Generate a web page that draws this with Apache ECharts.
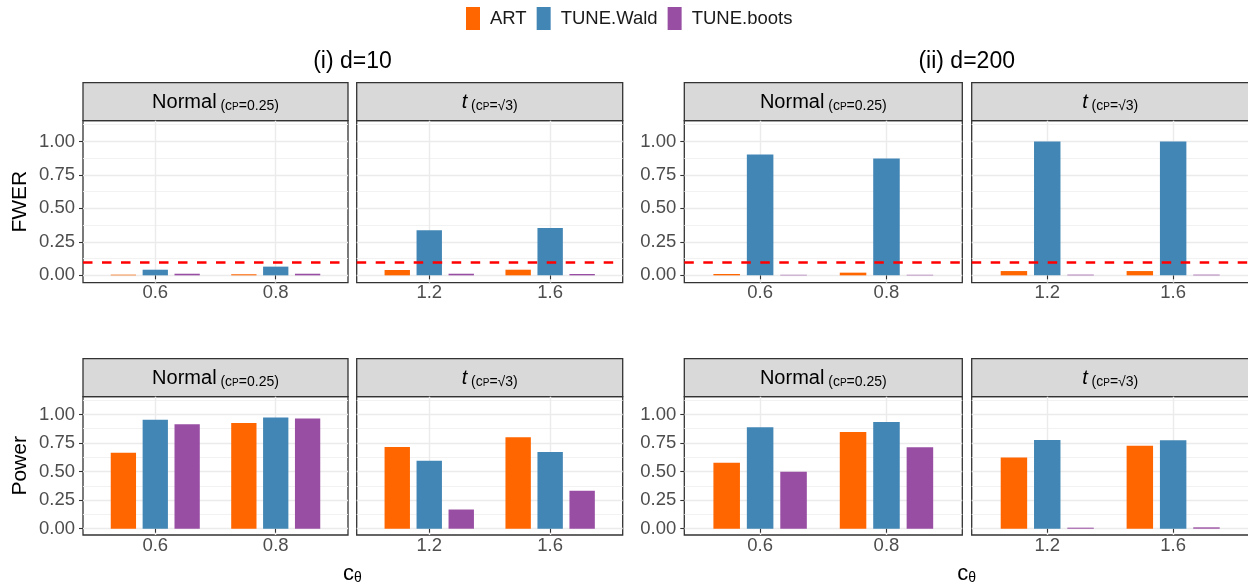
<!DOCTYPE html>
<html>
<head>
<meta charset="utf-8">
<script src="https://cdn.jsdelivr.net/npm/echarts@6.0.0/dist/echarts.min.js"></script>
<style>
  html, body { margin: 0; padding: 0; background: #fff; }
  #chart { width: 1248px; height: 584px; }
</style>
</head>
<body>
<div id="chart"></div>
<script>
// 方法 / 类别
const methods = ['ART', 'TUNE.Wald', 'TUNE.boots'];
const methodColors = ['#ff6600', '#4286b5', '#984ea3'];
const normalCats = ['0.6', '0.8'];
const tCats = ['1.2', '1.6'];
const yTicks = [0, 0.25, 0.5, 0.75, 1];
const yMinorTicks = [0.125, 0.375, 0.625, 0.875, 1.125];
const nominalLevel = 0.1;

// rows: ART, TUNE.Wald, TUNE.boots ; cols: the two c_theta values
const fwerD10Normal = [[0.005, 0.008], [0.042, 0.065], [0.012, 0.012]];
const fwerD10T = [[0.04, 0.042], [0.336, 0.353], [0.012, 0.01]];
const fwerD200Normal = [[0.01, 0.02], [0.903, 0.873], [0.004, 0.004]];
const fwerD200T = [[0.032, 0.032], [1.0, 1.0], [0.005, 0.005]];
const powerD10Normal = [[0.664, 0.925], [0.954, 0.974], [0.913, 0.965]];
const powerD10T = [[0.716, 0.8], [0.594, 0.672], [0.168, 0.333]];
const powerD200Normal = [[0.577, 0.846], [0.887, 0.933], [0.499, 0.713]];
const powerD200T = [[0.623, 0.725], [0.777, 0.774], [0.009, 0.012]];

const yMin = -0.055;
const yMax = 1.155;
const stripH = 38;
const font = "'Liberation Sans', Arial, Helvetica, sans-serif";

// 面板布局 (px): left, top, width, height
const panels = [
  { box: [83, 120.7, 265, 162], cats: normalCats, rows: fwerD10Normal, first: true, ref: true, strip: 'n' },
  { box: [356.7, 120.7, 266, 162], cats: tCats, rows: fwerD10T, first: false, ref: true, strip: 't' },
  { box: [684.3, 120.7, 278, 162], cats: normalCats, rows: fwerD200Normal, first: true, ref: true, strip: 'n' },
  { box: [971.7, 120.7, 277, 162], cats: tCats, rows: fwerD200T, first: false, ref: true, strip: 't' },
  { box: [83, 396.7, 265, 138.3], cats: normalCats, rows: powerD10Normal, first: true, ref: false, strip: 'n' },
  { box: [356.7, 396.7, 266, 138.3], cats: tCats, rows: powerD10T, first: false, ref: false, strip: 't' },
  { box: [684.3, 396.7, 278, 138.3], cats: normalCats, rows: powerD200Normal, first: true, ref: false, strip: 'n' },
  { box: [971.7, 396.7, 277, 138.3], cats: tCats, rows: powerD200T, first: false, ref: false, strip: 't' }
];

const stripRich = {
  a: { fontSize: 20, color: '#1a1a1a', lineHeight: 24, verticalAlign: 'bottom', fontFamily: font },
  it: { fontSize: 20, fontStyle: 'italic', color: '#1a1a1a', lineHeight: 24, verticalAlign: 'bottom', fontFamily: font },
  b: { fontSize: 14, color: '#1a1a1a', lineHeight: 20, verticalAlign: 'bottom', fontFamily: font },
  s: { fontSize: 10, color: '#1a1a1a', lineHeight: 13, verticalAlign: 'bottom', fontFamily: font }
};

const grids = [];
const xAxes = [];
const yAxes = [];
const series = [];
const graphics = [];

panels.forEach((p, i) => {
  const [left, top, width, height] = p.box;
  grids.push({
    left: left, top: top, width: width, height: height,
    show: true, backgroundColor: '#fff', borderColor: '#333333', borderWidth: 1.3,
    containLabel: false, outerBoundsMode: 'none'
  });
  xAxes.push({
    gridIndex: i, type: 'value', min: 0.4, max: 2.6,
    axisLine: { show: false },
    axisTick: { show: true, customValues: [1, 2], length: 4, lineStyle: { color: '#333333', width: 1.1 } },
    axisLabel: {
      show: true, customValues: [1, 2], margin: 1, fontSize: 18.5, color: '#4d4d4d', fontFamily: font,
      formatter: (v) => p.cats[Math.round(v) - 1]
    },
    splitLine: { show: true, lineStyle: { color: '#ebebeb', width: 1.4 } }
  });
  // 主网格线
  yAxes.push({
    gridIndex: i, type: 'value', min: yMin, max: yMax, position: 'left',
    axisLine: { show: false },
    axisTick: { show: p.first, customValues: yTicks, length: 4, lineStyle: { color: '#333333', width: 1.1 } },
    axisLabel: {
      show: p.first, customValues: yTicks, margin: 8, fontSize: 18.5, color: '#4d4d4d', fontFamily: font,
      formatter: (v) => v.toFixed(2)
    },
    splitLine: { show: true, lineStyle: { color: '#ebebeb', width: 1.4 } }
  });
  // 次网格线
  yAxes.push({
    gridIndex: i, type: 'value', min: yMin, max: yMax, position: 'right',
    axisLine: { show: false },
    axisTick: { show: false, customValues: yMinorTicks },
    axisLabel: { show: false, customValues: yMinorTicks },
    splitLine: { show: true, lineStyle: { color: '#f0f0f0', width: 0.9 } }
  });

  p.rows.forEach((vals, m) => {
    const s = {
      name: methods[m], type: 'bar',
      xAxisIndex: i, yAxisIndex: 2 * i,
      barWidth: '21%', barGap: '26%',
      itemStyle: { color: methodColors[m] },
      data: vals.map((v, k) => [k + 1, v])
    };
    if (m === 0 && p.ref) {
      s.markLine = {
        silent: true, symbol: 'none', z: 6,
        label: { show: false },
        lineStyle: { color: '#ff0000', type: [9.5, 9.5], width: 2.6 },
        data: [{ yAxis: nominalLevel }]
      };
    }
    series.push(s);
  });

  // 分面标题条
  graphics.push({
    type: 'rect', silent: true,
    shape: { x: left, y: top - stripH, width: width, height: stripH },
    style: { fill: '#d9d9d9', stroke: '#333333', lineWidth: 1.3 }
  });
  graphics.push({
    type: 'text', silent: true, x: left + width / 2, y: top - stripH / 2 - 1,
    style: {
      text: p.strip === 'n' ? '{a|Normal}{b| (c}{s|P}{b|=0.25)}' : '{it|t}{b| (c}{s|P}{b|=√3)}',
      rich: stripRich, align: 'center', verticalAlign: 'middle'
    }
  });
});

// 组标题、轴标题
graphics.push(
  { type: 'text', silent: true, x: 352.5, y: 62, style: { text: '(i) d=10', font: "23px " + font, fill: '#000', align: 'center', verticalAlign: 'middle' } },
  { type: 'text', silent: true, x: 966.7, y: 62, style: { text: '(ii) d=200', font: "23px " + font, fill: '#000', align: 'center', verticalAlign: 'middle' } },
  { type: 'text', silent: true, x: 20, y: 201.7, rotation: Math.PI / 2, style: { text: 'FWER', font: "21px " + font, fill: '#000', align: 'center', verticalAlign: 'middle' } },
  { type: 'text', silent: true, x: 20, y: 465.8, rotation: Math.PI / 2, style: { text: 'Power', font: "21px " + font, fill: '#000', align: 'center', verticalAlign: 'middle' } }
);
[352.5, 966.7].forEach((cx) => {
  graphics.push({
    type: 'text', silent: true, x: cx, y: 573,
    style: {
      text: '{c|c}{s|θ}', align: 'center', verticalAlign: 'middle',
      rich: {
        c: { fontSize: 22, color: '#000', lineHeight: 24, verticalAlign: 'bottom', fontFamily: font },
        s: { fontSize: 14, color: '#000', lineHeight: 10, verticalAlign: 'bottom', fontFamily: font }
      }
    }
  });
});

const chart = echarts.init(document.getElementById('chart'), null, { renderer: 'canvas' });
chart.setOption({
  animation: false,
  backgroundColor: '#ffffff',
  textStyle: { fontFamily: font },
  legend: {
    data: methods, left: 466, top: 7, padding: 0,
    icon: 'rect', itemWidth: 14, itemHeight: 23, itemGap: 10,
    selectedMode: false,
    textStyle: { fontSize: 18.5, color: '#1a1a1a', fontFamily: font, padding: [0, 0, 0, 5] }
  },
  grid: grids,
  xAxis: xAxes,
  yAxis: yAxes,
  series: series,
  graphic: graphics
});
</script>
</body>
</html>
